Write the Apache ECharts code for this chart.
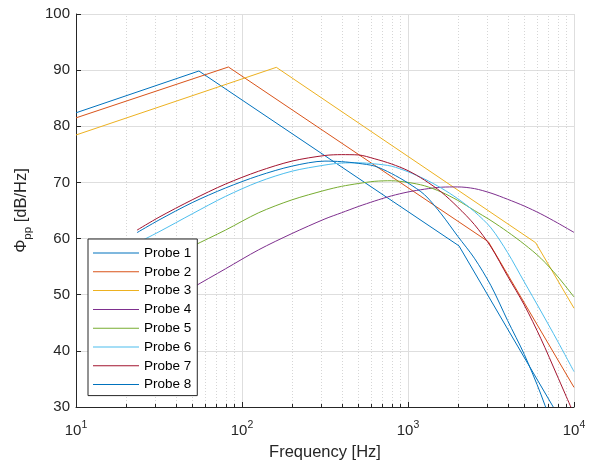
<!DOCTYPE html>
<html><head><meta charset="utf-8">
<script src="https://cdn.jsdelivr.net/npm/echarts@6/dist/echarts.min.js"></script>
<style>html,body{margin:0;padding:0;background:#fff}#c{width:595px;height:466px}</style>
</head><body><div id="c"></div>
<script>
const probeNames = ['Probe 1','Probe 2','Probe 3','Probe 4','Probe 5','Probe 6','Probe 7','Probe 8'];
const colors = ['#0072BD','#D95319','#EDB120','#7E2F8E','#77AC30','#4DBEEE','#A2142F','#0072BD'];

// piecewise probes (frequency in Hz, level in dB/Hz)
const p1Freq = [10, 55, 2028, 7500];
const p1Val  = [82.4, 89.85, 58.7, 30];
const p2Freq = [10, 82.8, 3048, 10000];
const p2Val  = [81.5, 90.56, 59.44, 33.5];
const p3Freq = [10, 161, 5875, 10000];
const p3Val  = [78.45, 90.5, 59.26, 47.6];

// smooth probes share one frequency grid
const curveFreq = [23.3, 31.6, 50.1, 79.4, 126, 200, 316, 398, 501, 631, 794, 1000, 1259, 1585, 1995, 2512, 3162, 3981, 5012, 6310, 7943, 10000];
const p4Val = [45.0, 47.5, 51.2, 54.6, 58.0, 60.9, 63.5, 64.6, 65.7, 66.7, 67.6, 68.3, 68.8, 69.15, 69.2, 68.9, 68.1, 67.0, 65.8, 64.4, 62.8, 61.1];
const p5Val = [53.4, 55.5, 58.6, 61.5, 64.6, 66.9, 68.6, 69.3, 69.8, 70.2, 70.3, 70.0, 69.4, 68.3, 66.8, 65.0, 63.2, 61.2, 59.0, 56.5, 53.3, 49.6];
const p6Val = [59.2, 61.2, 64.4, 67.5, 70.1, 72.0, 73.1, 73.45, 73.5, 73.3, 72.9, 71.9, 70.6, 69.0, 67.1, 64.8, 61.9, 57.5, 52.3, 47.1, 41.8, 36.3];
const p7Val = [61.5, 63.8, 66.9, 69.7, 72.0, 73.8, 74.8, 74.95, 74.9, 74.2, 73.3, 72.1, 70.4, 68.3, 65.6, 62.5, 58.5, 53.3, 48.2, 42.2, 35.5, 28.7];
const p8Val = [61.05, 63.3, 66.4, 69.0, 71.2, 72.9, 73.8, 73.7, 73.4, 72.9, 71.6, 69.9, 67.8, 64.4, 60.4, 56.5, 51.6, 45.4, 39.4, 32.3, 24.0, 15.0];

const minorFreq = [20,30,40,50,60,70,80,90,200,300,400,500,600,700,800,900,2000,3000,4000,5000,6000,7000,8000,9000];
const xMin = 10, xMax = 10000, yMin = 30, yMax = 100, yStep = 10;

const zip = (xs, ys) => xs.map((x, i) => [x, ys[i]]);
const seriesData = [
  zip(p1Freq, p1Val), zip(p2Freq, p2Val), zip(p3Freq, p3Val),
  zip(curveFreq, p4Val), zip(curveFreq, p5Val), zip(curveFreq, p6Val),
  zip(curveFreq, p7Val), zip(curveFreq, p8Val)
];
const FONT = '"Liberation Sans", Arial, Helvetica, sans-serif';
const AX = '#262626';

const chart = echarts.init(document.getElementById('c'), null, {renderer: 'canvas'});
const series = seriesData.map((d, i) => ({
  name: probeNames[i], type: 'line', data: d, symbol: 'none', showSymbol: false,
  smooth: i >= 3 ? 0.3 : false, clip: true, z: 3,
  lineStyle: {color: colors[i], width: 1}, itemStyle: {color: colors[i]},
  emphasis: {disabled: true}, animation: false
}));
series.unshift({
  type: 'custom', silent: true, z: 1, animation: false,
  data: minorFreq.map(f => [f, yMin]),
  renderItem: (params, api) => {
    const f = api.value(0);
    const a = api.coord([f, yMin]);
    const b = api.coord([f, yMax]);
    const x = Math.round(a[0]) + 0.5;
    return {type: 'group', children: [
      {type: 'line', shape: {x1: x, y1: a[1], x2: x, y2: b[1]}, style: {stroke: '#d6d6d6', lineWidth: 1, lineDash: [1, 2]}},
      {type: 'line', shape: {x1: x, y1: a[1], x2: x, y2: a[1] - 3}, style: {stroke: AX, lineWidth: 1}}
    ]};
  }
});

chart.setOption({
  animation: false,
  backgroundColor: '#fff',
  textStyle: {fontFamily: FONT},
  grid: {left: 76, right: 21, top: 14, bottom: 59, containLabel: false},
  legend: {
    data: probeNames, orient: 'vertical', left: 88, top: 239,
    icon: 'rect',
    backgroundColor: '#fff', borderColor: AX, borderWidth: 1, borderRadius: 0,
    padding: [6, 6, 3, 5], itemWidth: 46, itemHeight: 1, itemGap: 2.8,
    textStyle: {fontFamily: FONT, fontSize: 13.5, color: '#000', lineHeight: 16},
    selectedMode: false, z: 10
  },
  xAxis: {
    type: 'log', logBase: 10, min: xMin, max: xMax, splitNumber: 3,
    name: 'Frequency [Hz]', nameLocation: 'middle', nameGap: 37,
    nameTextStyle: {fontFamily: FONT, fontSize: 16.5, color: AX},
    axisLine: {show: true, lineStyle: {color: AX, width: 1}},
    axisTick: {show: true, inside: true, length: 5, lineStyle: {color: AX}},
    splitLine: {show: true, lineStyle: {color: '#dedede', width: 1}},
    axisLabel: {
      margin: 13, color: AX,
      formatter: v => '{b|10}{s|' + Math.round(Math.log10(v)) + '}',
      rich: {
        b: {fontFamily: FONT, fontSize: 15, color: AX},
        s: {fontFamily: FONT, fontSize: 10.5, color: AX, padding: [0, 0, 10, 0]}
      }
    }
  },
  yAxis: {
    type: 'value', min: yMin, max: yMax, interval: yStep,
    name: '{a|Φ}{sub|pp}{a| [dB/Hz]}', nameLocation: 'middle', nameGap: 36,
    nameTextStyle: {
      rich: {
        a: {fontFamily: FONT, fontSize: 16.5, color: AX},
        sub: {fontFamily: FONT, fontSize: 11.5, color: AX, padding: [14, 0, 0, 0]}
      }
    },
    axisLine: {show: true, lineStyle: {color: AX, width: 1}},
    axisTick: {show: true, inside: true, length: 5, lineStyle: {color: AX}},
    splitLine: {show: true, lineStyle: {color: '#dedede', width: 1}},
    axisLabel: {margin: 6, fontFamily: FONT, fontSize: 15, color: AX}
  },
  series: series
});
</script></body></html>
